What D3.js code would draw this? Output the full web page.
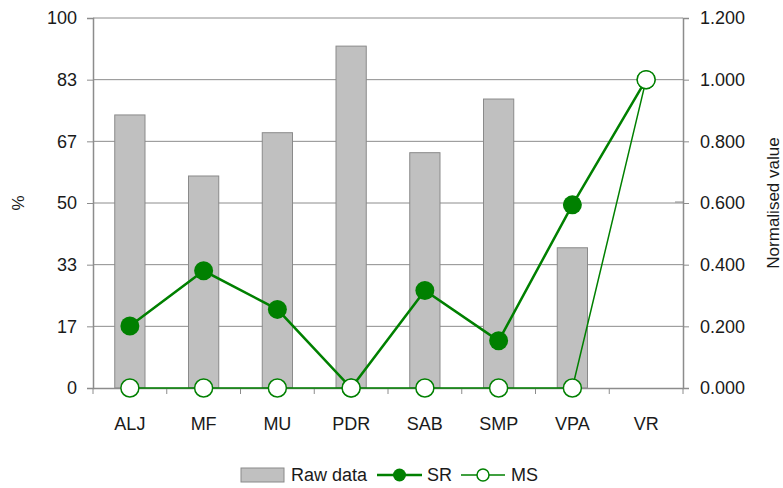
<html>
<head>
  <meta charset="UTF-8">
  <title>Raw data, SR and MS</title>
  <style>
    body { margin: 0; background: #fff; }
    text { font-family: "Liberation Sans", Arial, sans-serif; fill: #1a1a1a; }
  </style>
</head>
<body>
  <div id="chart"></div>
  <script src="https://cdnjs.cloudflare.com/ajax/libs/d3/7.8.5/d3.min.js"></script>
  <script>
    // data
    const categories = ["ALJ", "MF", "MU", "PDR", "SAB", "SMP", "VPA", "VR"];
    const rawData = [73.8, 57.3, 69.0, 92.4, 63.6, 78.1, 37.9, 0];
    const srValues = [0.201, 0.380, 0.255, 0, 0.316, 0.153, 0.594, 1.0];
    const msValues = [0, 0, 0, 0, 0, 0, 0, 1.0];
    const leftTicks = [0, 100 / 6, 200 / 6, 50, 400 / 6, 500 / 6, 100];
    const rightTicks = [0, 0.2, 0.4, 0.6, 0.8, 1.0, 1.2];

    const width = 783, height = 488;
    const m = { left: 93, right: 100, top: 18, bottom: 100 };
    const green = "#008000";
    const axisGrey = "#8c8c8c";

    const svg = d3.select("#chart").append("svg")
      .attr("width", width).attr("height", height);

    const x = d3.scaleBand().domain(categories)
      .range([m.left, width - m.right]).paddingInner(0.59).paddingOuter(0.295);
    const yL = d3.scaleLinear().domain([0, 100]).range([height - m.bottom, m.top]);
    const yR = d3.scaleLinear().domain([0, 1.2]).range([height - m.bottom, m.top]);
    const xc = d => x(d) + x.bandwidth() / 2;

    // gridlines
    svg.append("g").selectAll("line").data(leftTicks.slice(1))
      .join("line")
      .attr("x1", m.left).attr("x2", width - m.right)
      .attr("y1", d => yL(d)).attr("y2", d => yL(d))
      .attr("stroke", axisGrey).attr("stroke-width", 1);

    // bars
    svg.append("g").selectAll("rect").data(rawData)
      .join("rect")
      .attr("x", (d, i) => x(categories[i]))
      .attr("y", d => yL(d))
      .attr("width", x.bandwidth())
      .attr("height", d => yL(0) - yL(d))
      .attr("fill", "#c0c0c0")
      .attr("stroke", "#8a8a8a").attr("stroke-width", 1)
      .style("display", d => d > 0 ? null : "none");

    // left axis
    const leftAxis = svg.append("g").attr("transform", `translate(${m.left},0)`)
      .call(d3.axisLeft(yL).tickValues(leftTicks).tickFormat(d3.format(".0f")).tickSize(6).tickPadding(10));
    // right axis
    const rightAxis = svg.append("g").attr("transform", `translate(${width - m.right},0)`)
      .call(d3.axisRight(yR).tickValues(rightTicks).tickFormat(d3.format(".3f")).tickSize(6).tickPadding(11));
    // small stub left of the 0.600 tick, as in the original
    rightAxis.append("line").attr("x1", -8).attr("x2", 0)
      .attr("y1", yR(0.6) - 1).attr("y2", yR(0.6) - 1).attr("stroke", axisGrey);
    // bottom axis with ticks at category borders
    const bottomAxis = svg.append("g").attr("transform", `translate(0,${yL(0)})`)
      .call(d3.axisBottom(x).tickSize(0).tickPadding(29));
    bottomAxis.selectAll(".bnd").data(d3.range(categories.length + 1))
      .join("line").attr("class", "bnd")
      .attr("x1", i => m.left + i * x.step()).attr("x2", i => m.left + i * x.step())
      .attr("y1", 0).attr("y2", 6)
      .attr("stroke", axisGrey);

    [leftAxis, rightAxis, bottomAxis].forEach(g => {
      g.select(".domain").attr("stroke", axisGrey).attr("stroke-width", 1.5);
      g.selectAll(".tick line").attr("stroke", axisGrey);
      g.selectAll("text").style("font-size", "18px").attr("fill", "#1a1a1a");
    });

    // axis titles
    svg.append("text").attr("transform", `translate(24,${yL(50)}) rotate(-90)`)
      .attr("text-anchor", "middle").style("font-size", "17px").text("%");
    svg.append("text").attr("transform", `translate(779,${yL(50)}) rotate(-90)`)
      .attr("text-anchor", "middle").style("font-size", "17px").text("Normalised value");

    // SR line
    const srLine = d3.line().x((d, i) => xc(categories[i])).y(d => yR(d));
    svg.append("path").datum(srValues).attr("d", srLine)
      .attr("fill", "none").attr("stroke", green).attr("stroke-width", 2.5);

    // MS line
    svg.append("path").datum(msValues).attr("d", srLine)
      .attr("fill", "none").attr("stroke", green).attr("stroke-width", 1.5);

    svg.append("g").selectAll("circle").data(srValues)
      .join("circle")
      .attr("cx", (d, i) => xc(categories[i])).attr("cy", d => yR(d))
      .attr("r", 9.5).attr("fill", green);

    svg.append("g").selectAll("circle").data(msValues)
      .join("circle")
      .attr("cx", (d, i) => xc(categories[i])).attr("cy", d => yR(d))
      .attr("r", 9).attr("fill", "#fff").attr("stroke", green).attr("stroke-width", 1.5);

    // legend
    const lg = svg.append("g").attr("transform", "translate(0,475)");
    lg.append("rect").attr("x", 241).attr("y", -7).attr("width", 43).attr("height", 14)
      .attr("fill", "#c0c0c0").attr("stroke", "#8a8a8a");
    lg.append("text").attr("x", 291).attr("y", 6).style("font-size", "18px").text("Raw data");
    lg.append("line").attr("x1", 377).attr("x2", 422).attr("y1", 0).attr("y2", 0)
      .attr("stroke", green).attr("stroke-width", 2.5);
    lg.append("circle").attr("cx", 399.5).attr("cy", 0).attr("r", 6.5).attr("fill", green);
    lg.append("text").attr("x", 427).attr("y", 6).style("font-size", "18px").text("SR");
    lg.append("line").attr("x1", 461).attr("x2", 505).attr("y1", 0).attr("y2", 0)
      .attr("stroke", green).attr("stroke-width", 1.5);
    lg.append("circle").attr("cx", 483).attr("cy", 0).attr("r", 6)
      .attr("fill", "#fff").attr("stroke", green).attr("stroke-width", 1.5);
    lg.append("text").attr("x", 511).attr("y", 6).style("font-size", "18px").text("MS");
  </script>
</body>
</html>
